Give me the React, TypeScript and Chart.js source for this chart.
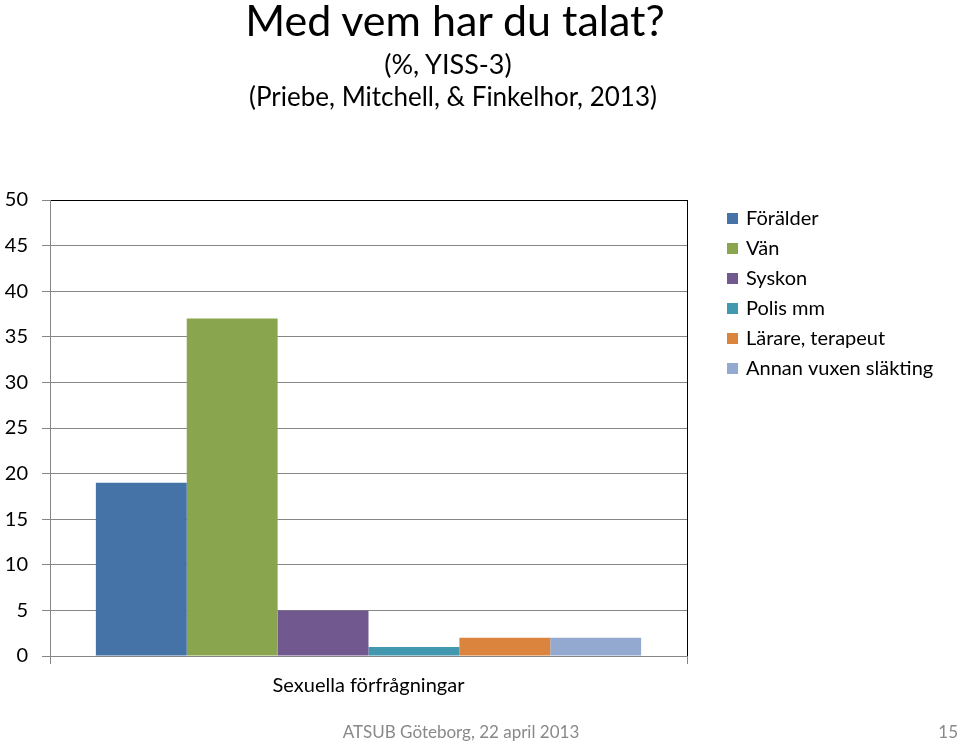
import React, { useEffect, useRef } from "react";
import { Chart, registerables } from "chart.js";

Chart.register(...registerables);

const categories = ["Sexuella förfrågningar"];
const seriesNames = ["Förälder", "Vän", "Syskon", "Polis mm", "Lärare, terapeut", "Annan vuxen släkting"];
const seriesValues = [19, 37, 5, 1, 2, 2];
const seriesColors = ["#4572A7", "#89A54E", "#71588F", "#4198AF", "#DB843D", "#93A9CF"];
const yMin = 0;
const yMax = 50;
const yStep = 5;

const titleText = "Med vem har du talat?";
const subtitleLines = ["(%, YISS-3)", "(Priebe, Mitchell, & Finkelhor, 2013)"];
const footerText = "ATSUB Göteborg, 22 april 2013";
const pageNumber = "15";

const FONT = "Lato, 'Open Sans', sans-serif";
const GRID = "#868686";

// Legend drawn to the right of the plot area, from the chart's own datasets
const sideLegend = {
  id: "sideLegend",
  afterDraw(chart: any) {
    const { ctx, chartArea } = chart;
    const x0 = chartArea.right + 40;
    const y0 = chartArea.top + 18;
    const step = 30;
    const box = 11;
    ctx.save();
    ctx.font = `20px ${FONT}`;
    ctx.textBaseline = "middle";
    ctx.textAlign = "left";
    chart.data.datasets.forEach((ds: any, i: number) => {
      const y = y0 + i * step;
      ctx.fillStyle = ds.backgroundColor;
      ctx.fillRect(x0, Math.round(y - box / 2), box, box);
      ctx.fillStyle = "#000";
      ctx.fillText(ds.label, x0 + box + 8, y + 1);
    });
    ctx.restore();
  },
};

export default function App() {
  const canvasRef = useRef<HTMLCanvasElement | null>(null);

  useEffect(() => {
    if (!canvasRef.current) return;
    const chart = new Chart(canvasRef.current, {
      type: "bar",
      data: {
        labels: categories,
        datasets: seriesNames.map((name, i) => ({
          label: name,
          data: [seriesValues[i]],
          backgroundColor: seriesColors[i],
          borderWidth: 0,
          barPercentage: 1,
          categoryPercentage: 0.856,
        })),
      },
      options: {
        animation: false,
        responsive: true,
        maintainAspectRatio: false,
        layout: { padding: { top: 200, left: 0, right: 273, bottom: 35 } },
        plugins: {
          title: { display: false },
          tooltip: { enabled: false },
          legend: { display: false },
        },
        scales: {
          x: {
            grid: {
              offset: true,
              drawOnChartArea: true,
              color: (ctx: any) => (ctx.index === 0 ? GRID : "#000"),
              tickColor: GRID,
              tickLength: 8,
            },
            border: { color: GRID, width: 1 },
            ticks: {
              color: "#000",
              font: { family: FONT, size: 20 },
              padding: 10,
              maxRotation: 0,
            },
          },
          y: {
            min: yMin,
            max: yMax,
            afterFit: (scale: any) => {
              scale.width = 50;
            },
            grid: {
              color: (ctx: any) => (ctx.tick && ctx.tick.value === yMax ? "#000" : GRID),
              tickColor: GRID,
              tickLength: 8,
            },
            border: { color: GRID, width: 1 },
            ticks: {
              stepSize: yStep,
              color: "#000",
              padding: 14,
              font: { family: FONT, size: 20 },
            },
          },
        },
      } as any,
      plugins: [sideLegend],
    });
    return () => chart.destroy();
  }, []);

  const base: React.CSSProperties = {
    position: "absolute",
    left: 0,
    width: 910,
    textAlign: "center",
    fontFamily: FONT,
    color: "#000",
    whiteSpace: "nowrap",
  };

  return (
    <div style={{ position: "absolute", left: 0, top: 0, width: 960, height: 743, background: "#fff" }}>
      <canvas ref={canvasRef} />
      <div style={{ ...base, top: -2, fontSize: 43, lineHeight: "43px" }}>{titleText}</div>
      <div style={{ ...base, width: 896, top: 50, fontSize: 27, lineHeight: "27px" }}>{subtitleLines[0]}</div>
      <div style={{ ...base, width: 906, top: 83, fontSize: 26, lineHeight: "26px" }}>{subtitleLines[1]}</div>
      <div style={{ ...base, width: 922, top: 723, fontSize: 17, lineHeight: "17px", color: "#898989" }}>{footerText}</div>
      <div style={{ position: "absolute", right: 2, top: 723, fontSize: 17, lineHeight: "17px", color: "#898989", fontFamily: FONT }}>{pageNumber}</div>
    </div>
  );
}
